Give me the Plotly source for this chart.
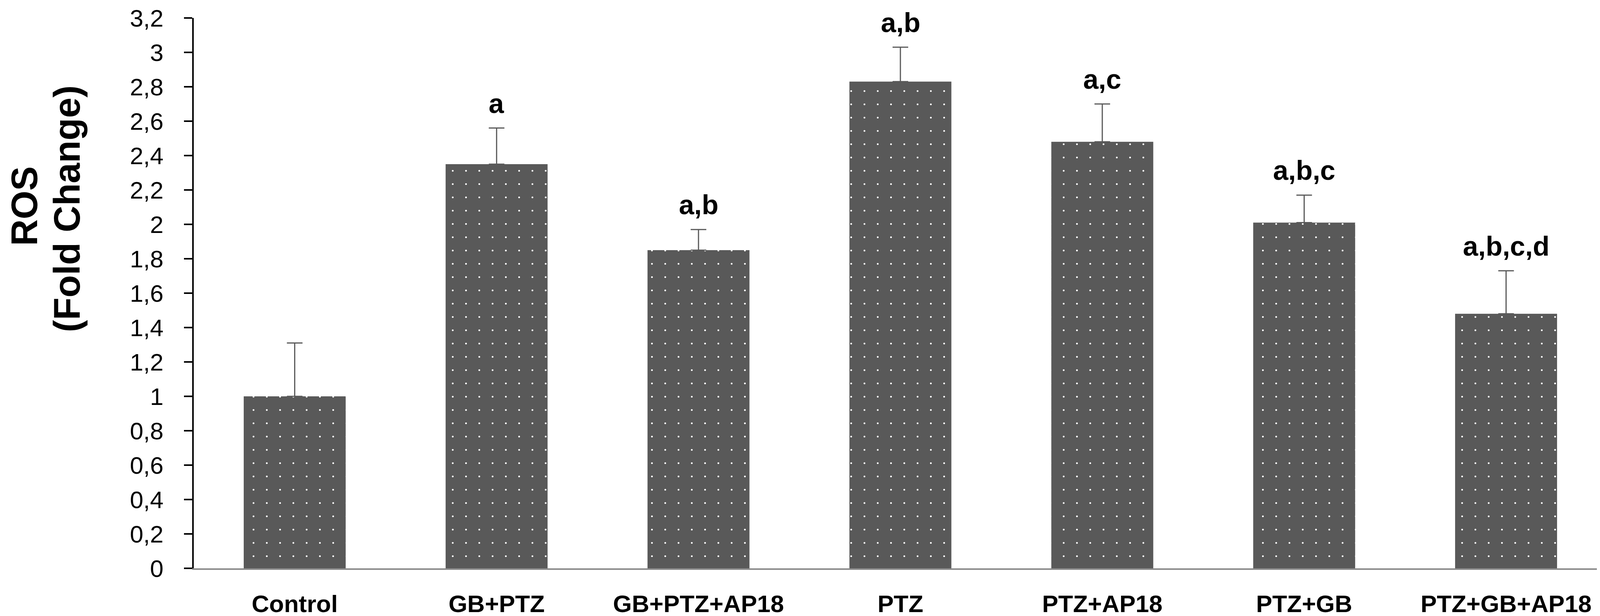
import plotly.graph_objects as go

groups = ["Control", "GB+PTZ", "GB+PTZ+AP18", "PTZ", "PTZ+AP18", "PTZ+GB", "PTZ+GB+AP18"]
ros = [1.0, 2.35, 1.85, 2.83, 2.48, 2.01, 1.48]
sem = [0.31, 0.21, 0.12, 0.2, 0.22, 0.16, 0.25]
letters = ["", "a", "a,b", "a,b", "a,c", "a,b,c", "a,b,c,d"]

W, H = 4107, 1576
L, R, T, B = 488, 1, 38, 130
font = "Arial, Liberation Sans, sans-serif"
bar_grey = "#595959"

fig = go.Figure()
fig.add_trace(go.Bar(
    x=groups,
    y=ros,
    marker=dict(
        color=bar_grey,
        line=dict(width=0),
        pattern=dict(shape=".", fgcolor="white", bgcolor=bar_grey,
                     size=34, solidity=0.015, fillmode="replace"),
    ),
    error_y=dict(type="data", array=sem, symmetric=False, arrayminus=[0] * len(sem),
                 color=bar_grey, thickness=3, width=20),
    showlegend=False,
))

# significance letters above the error bars
for g, v, e, t in zip(groups, ros, sem, letters):
    if t:
        fig.add_annotation(x=g, y=v + e, text=f"<b>{t}</b>", showarrow=False,
                           yanchor="bottom", yshift=22,
                           font=dict(family=font, size=70, color="black"))

# two-line y title, placed like the original
pw, ph = W - L - R, H - T - B
def px(xp, yp):
    return (xp - L) / pw, (H - B - yp) / ph

for txt, (cx, cy) in [("<b>ROS</b>", (54, 519)), ("<b>(Fold Change)</b>", (163, 526))]:
    ax, ay = px(cx, cy)
    fig.add_annotation(x=ax, y=ay, xref="paper", yref="paper", text=txt,
                       textangle=-90, showarrow=False, xanchor="center", yanchor="middle",
                       font=dict(family=font, size=94, color="black"))

fig.update_layout(
    width=W, height=H,
    margin=dict(l=L, r=R, t=T, b=B),
    plot_bgcolor="white", paper_bgcolor="white",
    separators=",.",
    bargap=0.495,
    xaxis=dict(showline=True, linecolor="#8c8c8c", linewidth=4, ticks="",
               showgrid=False, zeroline=False, ticklabelstandoff=34, automargin=False,
               tickfont=dict(family=font, size=62, color="black", weight="bold")),
    yaxis=dict(range=[0, 3.2], dtick=0.2, showline=True, linecolor="black", linewidth=4,
               ticks="outside", ticklen=21, tickwidth=4, tickcolor="black",
               showgrid=False, zeroline=False, ticklabelstandoff=40, automargin=False,
               tickfont=dict(family=font, size=62, color="black")),
)

fig.write_html("out.html")
